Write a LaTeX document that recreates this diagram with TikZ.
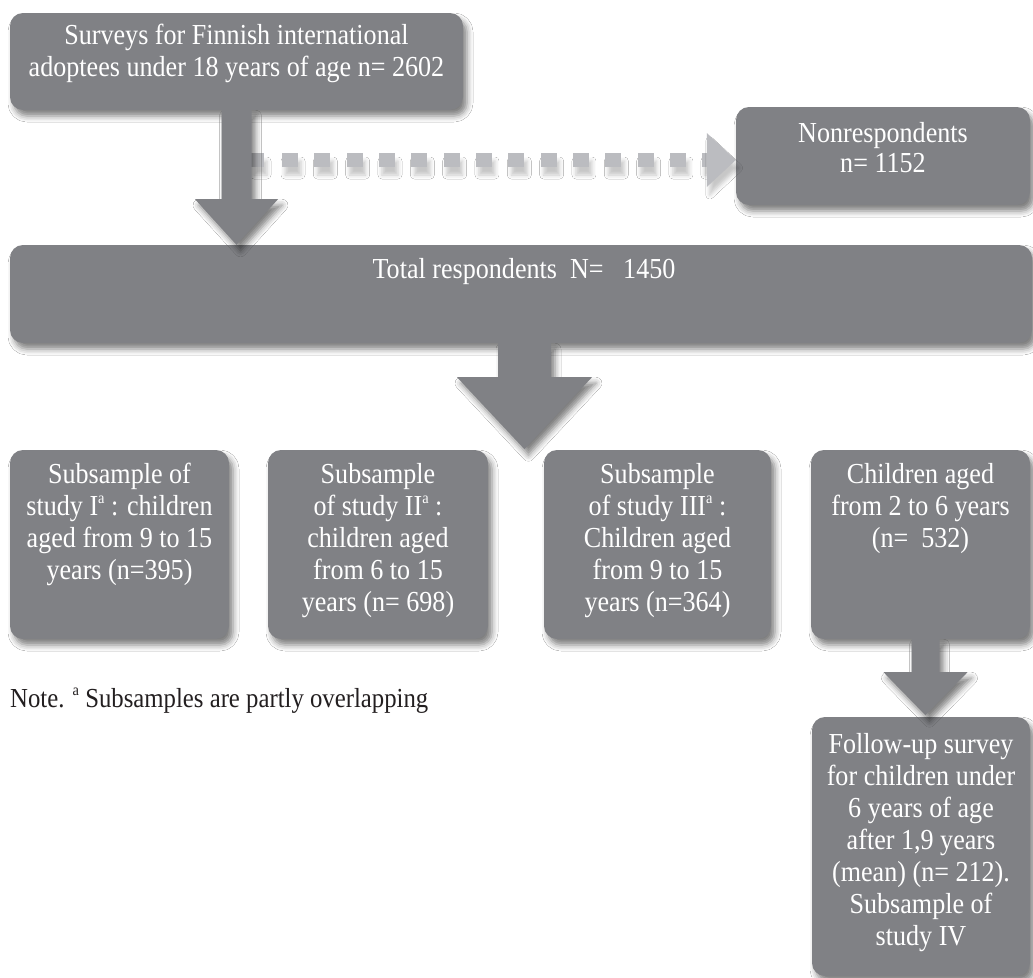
\documentclass[tikz,border=0pt]{standalone}
\usepackage{fontspec}
\setmainfont{Liberation Serif}[FakeStretch=0.9]
\usetikzlibrary{shadows.blur,calc}
\definecolor{boxgray}{HTML}{808185}
\definecolor{dashgray}{HTML}{BBBCC0}
\definecolor{notecol}{HTML}{231F20}
\newcommand{\bodyfnt}{\fontsize{29}{32}\selectfont}
\newcommand{\notefnt}{\fontsize{27.5}{32}\selectfont}
\newcommand{\supa}{\raisebox{0.42em}{\fontsize{16}{16}\selectfont a}}
\begin{document}
\begin{tikzpicture}[x=1pt,y=-1pt,
  shad/.style={blur shadow={shadow xshift=4pt,shadow yshift=-6pt,shadow blur radius=6pt,shadow opacity=50}},
  lshad/.style={blur shadow={shadow xshift=3pt,shadow yshift=-8pt,shadow blur radius=4pt,shadow opacity=22}},
  box/.style={fill=boxgray, rounded corners=13pt, inner sep=0pt, shad},
  txt/.style={text=white, align=center, inner sep=0pt, anchor=north, font=\bodyfnt},
  arrowfill/.style={fill=boxgray, shad},
  dashfill/.style={fill=dashgray, lshad}]
\fill[white] (0,0) rectangle (1033,977);
\useasboundingbox (0,0) rectangle (1033,977);

% boxes
\node[box, minimum width=453, minimum height=97] (top) at (236.5,61.5) {};
\node[box, minimum width=294, minimum height=98] (nonresp) at (883,156) {};
\node[box, minimum width=1022, minimum height=98] (total) at (521,294) {};
\node[box, minimum width=219, minimum height=189] (s1) at (119.5,544.5) {};
\node[box, minimum width=220, minimum height=189] (s2) at (378,544.5) {};
\node[box, minimum width=227, minimum height=189] (s3) at (657.5,544.5) {};
\node[box, minimum width=219, minimum height=189] (s4) at (920.5,544.5) {};
\node[box, minimum width=218, minimum height=259] (fu) at (921,846.5) {};

% texts
\node[txt] (toptxt) at (236.5,21.6) {\strut Surveys for Finnish international\\ adoptees under 18 years of age n= 2602};
\node[txt] (nonresptxt) at (883,119.6) {\strut Nonrespondents\\[-2pt] n= 1152};
\node[txt] (totaltxt) at (524,255.6) {\strut Total respondents\ \ N=\ \ \ 1450};
\node[txt] (s1txt) at (119.5,460.6) {\strut Subsample of\\ study I\supa\ : children\\ aged from 9 to 15\\ years (n=395)};
\node[txt] (s2txt) at (378,460.6) {\strut Subsample\\ of study II\supa\ :\\ children aged\\ from 6 to 15\\ years (n= 698)};
\node[txt] (s3txt) at (657.5,460.6) {\strut Subsample\\ of study III\supa\ :\\ Children aged\\ from 9 to 15\\ years (n=364)};
\node[txt] (s4txt) at (920.5,460.6) {\strut Children aged\\ from 2 to 6 years\\ (n=\ \ 532)};
\node[txt] (futxt) at (921,730.6) {\strut Follow-up survey\\ for children under\\ 6 years of age\\ after 1,9 years\\ (mean) (n= 212).\\ Subsample of\\ study IV};

% dashed arrow to nonrespondents
\coordinate (dy) at (0,160);
\coordinate (dend) at (nonresp.west |- dy);
\fill[dashfill] (251,153) rectangle (264,167);
\foreach \k in {0,...,12} \fill[dashfill] ({282+32.33*\k},153) rectangle ++(16,14);
\fill[dashfill] ($(dend)+(-34,-7)$) rectangle ($(dend)+(-28,7)$);
\fill[dashfill] ($(dend)+(-29,-27)$) -- (dend) -- ($(dend)+(-29,27)$) -- cycle;

% arrow top -> total
\coordinate (a1s) at (top.south);
\coordinate (a1t) at (top.south |- total.north);
\fill[arrowfill] ($(a1s)+(-15,0)$) -- ($(a1s)+(15,0)$) -- ($(a1s)+(15,89)$) -- ($(a1s)+(41.5,89)$) -- (a1t) -- ($(a1s)+(-41.5,89)$) -- ($(a1s)+(-15,89)$) -- cycle;

% arrow total -> subsamples
\coordinate (a3s) at ($(total.south)+(3.5,0)$);
\fill[arrowfill] ($(a3s)+(-26.5,0)$) -- ($(a3s)+(26.5,0)$) -- ($(a3s)+(26.5,34)$) -- ($(a3s)+(67.5,34)$) -- ($(a3s)+(0,106)$) -- ($(a3s)+(-67.5,34)$) -- ($(a3s)+(-26.5,34)$) -- cycle;

% arrow s4 -> follow-up
\coordinate (a4s) at ($(s4.south)+(5,0)$);
\fill[arrowfill] ($(a4s)+(-14,0)$) -- ($(a4s)+(14,0)$) -- ($(a4s)+(14,33)$) -- ($(a4s)+(42,33)$) -- ($(a4s)+(0,76)$) -- ($(a4s)+(-42,33)$) -- ($(a4s)+(-14,33)$) -- cycle;

% note
\node[anchor=base west, inner sep=0pt, font=\notefnt, text=notecol] (note) at (10,707) {Note. \supa\ Subsamples are partly overlapping};
\end{tikzpicture}
\end{document}
